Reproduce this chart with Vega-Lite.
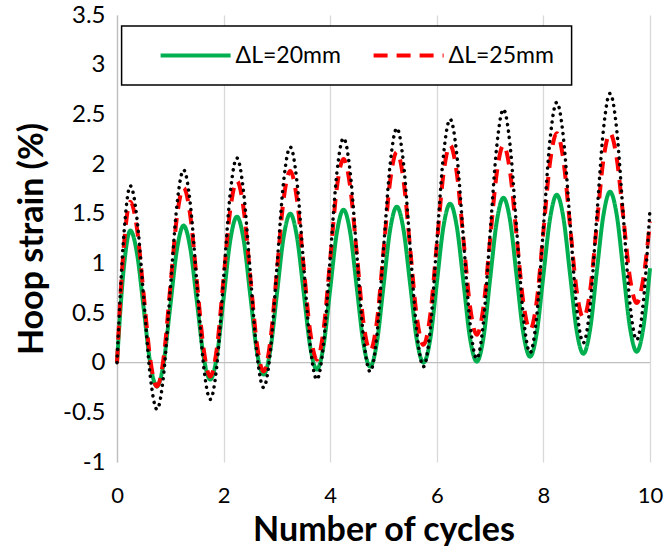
{
  "$schema": "https://vega.github.io/schema/vega-lite/v6.json",
  "width": 533,
  "height": 447,
  "autosize": {"type": "none"},
  "padding": {"left": 117, "top": 15, "right": 15, "bottom": 84},
  "background": "white",
  "config": {
    "view": {"stroke": null},
    "font": "Lato",
    "legend": {"strokeWidth": 1.5}
  },
  "datasets": {
    "cycles": [
      {"x": 0, "L20": 0, "L25": 0, "L30": 0},
      {"x": 0.125, "L20": 0.94, "L25": 1.15, "L30": 1.26},
      {"x": 0.25, "L20": 1.33, "L25": 1.62, "L30": 1.78},
      {"x": 0.375, "L20": 1.10, "L25": 1.35, "L30": 1.45},
      {"x": 0.5, "L20": 0.55, "L25": 0.69, "L30": 0.66},
      {"x": 0.625, "L20": -0.01, "L25": 0.03, "L30": -0.14},
      {"x": 0.75, "L20": -0.24, "L25": -0.24, "L30": -0.47},
      {"x": 0.875, "L20": 0.00, "L25": 0.05, "L30": -0.12},
      {"x": 1, "L20": 0.57, "L25": 0.76, "L30": 0.74},
      {"x": 1.125, "L20": 1.14, "L25": 1.47, "L30": 1.59},
      {"x": 1.25, "L20": 1.38, "L25": 1.76, "L30": 1.94},
      {"x": 1.375, "L20": 1.15, "L25": 1.48, "L30": 1.60},
      {"x": 1.5, "L20": 0.61, "L25": 0.81, "L30": 0.79},
      {"x": 1.625, "L20": 0.06, "L25": 0.14, "L30": -0.03},
      {"x": 1.75, "L20": -0.17, "L25": -0.14, "L30": -0.37},
      {"x": 1.875, "L20": 0.07, "L25": 0.15, "L30": -0.02},
      {"x": 2, "L20": 0.65, "L25": 0.85, "L30": 0.85},
      {"x": 2.125, "L20": 1.23, "L25": 1.54, "L30": 1.71},
      {"x": 2.25, "L20": 1.47, "L25": 1.83, "L30": 2.06},
      {"x": 2.375, "L20": 1.24, "L25": 1.55, "L30": 1.72},
      {"x": 2.5, "L20": 0.68, "L25": 0.87, "L30": 0.91},
      {"x": 2.625, "L20": 0.11, "L25": 0.19, "L30": 0.09},
      {"x": 2.75, "L20": -0.12, "L25": -0.09, "L30": -0.25},
      {"x": 2.875, "L20": 0.12, "L25": 0.21, "L30": 0.10},
      {"x": 3, "L20": 0.69, "L25": 0.92, "L30": 0.96},
      {"x": 3.125, "L20": 1.26, "L25": 1.64, "L30": 1.82},
      {"x": 3.25, "L20": 1.50, "L25": 1.93, "L30": 2.17},
      {"x": 3.375, "L20": 1.27, "L25": 1.65, "L30": 1.83},
      {"x": 3.5, "L20": 0.72, "L25": 0.98, "L30": 1.00},
      {"x": 3.625, "L20": 0.16, "L25": 0.31, "L30": 0.17},
      {"x": 3.75, "L20": -0.07, "L25": 0.03, "L30": -0.17},
      {"x": 3.875, "L20": 0.17, "L25": 0.33, "L30": 0.19},
      {"x": 4, "L20": 0.74, "L25": 1.04, "L30": 1.05},
      {"x": 4.125, "L20": 1.31, "L25": 1.76, "L30": 1.91},
      {"x": 4.25, "L20": 1.54, "L25": 2.05, "L30": 2.26},
      {"x": 4.375, "L20": 1.31, "L25": 1.77, "L30": 1.92},
      {"x": 4.5, "L20": 0.75, "L25": 1.09, "L30": 1.09},
      {"x": 4.625, "L20": 0.19, "L25": 0.40, "L30": 0.25},
      {"x": 4.75, "L20": -0.04, "L25": 0.12, "L30": -0.09},
      {"x": 4.875, "L20": 0.20, "L25": 0.41, "L30": 0.27},
      {"x": 5, "L20": 0.77, "L25": 1.12, "L30": 1.14},
      {"x": 5.125, "L20": 1.34, "L25": 1.83, "L30": 2.00},
      {"x": 5.25, "L20": 1.57, "L25": 2.12, "L30": 2.36},
      {"x": 5.375, "L20": 1.34, "L25": 1.84, "L30": 2.01},
      {"x": 5.5, "L20": 0.79, "L25": 1.15, "L30": 1.16},
      {"x": 5.625, "L20": 0.23, "L25": 0.46, "L30": 0.31},
      {"x": 5.75, "L20": 0.00, "L25": 0.18, "L30": -0.04},
      {"x": 5.875, "L20": 0.23, "L25": 0.47, "L30": 0.32},
      {"x": 6, "L20": 0.80, "L25": 1.19, "L30": 1.21},
      {"x": 6.125, "L20": 1.37, "L25": 1.90, "L30": 2.09},
      {"x": 6.25, "L20": 1.60, "L25": 2.19, "L30": 2.45},
      {"x": 6.375, "L20": 1.37, "L25": 1.91, "L30": 2.10},
      {"x": 6.5, "L20": 0.81, "L25": 1.24, "L30": 1.25},
      {"x": 6.625, "L20": 0.24, "L25": 0.56, "L30": 0.39},
      {"x": 6.75, "L20": 0.01, "L25": 0.28, "L30": 0.04},
      {"x": 6.875, "L20": 0.25, "L25": 0.56, "L30": 0.41},
      {"x": 7, "L20": 0.84, "L25": 1.24, "L30": 1.30},
      {"x": 7.125, "L20": 1.42, "L25": 1.91, "L30": 2.18},
      {"x": 7.25, "L20": 1.66, "L25": 2.19, "L30": 2.55},
      {"x": 7.375, "L20": 1.43, "L25": 1.92, "L30": 2.19},
      {"x": 7.5, "L20": 0.86, "L25": 1.26, "L30": 1.33},
      {"x": 7.625, "L20": 0.29, "L25": 0.60, "L30": 0.46},
      {"x": 7.75, "L20": 0.06, "L25": 0.33, "L30": 0.10},
      {"x": 7.875, "L20": 0.30, "L25": 0.62, "L30": 0.47},
      {"x": 8, "L20": 0.88, "L25": 1.32, "L30": 1.36},
      {"x": 8.125, "L20": 1.45, "L25": 2.02, "L30": 2.25},
      {"x": 8.25, "L20": 1.69, "L25": 2.31, "L30": 2.62},
      {"x": 8.375, "L20": 1.46, "L25": 2.04, "L30": 2.27},
      {"x": 8.5, "L20": 0.89, "L25": 1.38, "L30": 1.41},
      {"x": 8.625, "L20": 0.32, "L25": 0.72, "L30": 0.55},
      {"x": 8.75, "L20": 0.09, "L25": 0.45, "L30": 0.20},
      {"x": 8.875, "L20": 0.33, "L25": 0.72, "L30": 0.57},
      {"x": 9, "L20": 0.91, "L25": 1.38, "L30": 1.46},
      {"x": 9.125, "L20": 1.48, "L25": 2.04, "L30": 2.34},
      {"x": 9.25, "L20": 1.72, "L25": 2.31, "L30": 2.71},
      {"x": 9.375, "L20": 1.49, "L25": 2.06, "L30": 2.35},
      {"x": 9.5, "L20": 0.92, "L25": 1.46, "L30": 1.47},
      {"x": 9.625, "L20": 0.35, "L25": 0.85, "L30": 0.59},
      {"x": 9.75, "L20": 0.11, "L25": 0.60, "L30": 0.23},
      {"x": 9.875, "L20": 0.35, "L25": 0.85, "L30": 0.61},
      {"x": 10, "L20": 0.95, "L25": 1.42, "L30": 1.55}
    ]
  },
  "layer": [
    {
      "data": {"values": [{}]},
      "mark": {"type": "rule", "color": "#bfbfbf", "strokeWidth": 1.3},
      "encoding": {
        "y": {
          "datum": 0,
          "type": "quantitative",
          "scale": {"domain": [-1, 3.5], "nice": false, "zero": false},
          "axis": {
            "values": [-1, -0.5, 0, 0.5, 1, 1.5, 2, 2.5, 3, 3.5],
            "labelExpr": "toString(datum.value)",
            "labelFlush": false,
            "title": "Hoop strain (%)",
            "titleFont": "Lato",
            "titleFontSize": 34,
            "titleFontWeight": "bold",
            "titleColor": "#000",
            "titleX": -75,
            "titleY": 223.5,
            "titleBaseline": "alphabetic",
            "labelFont": "Lato",
            "labelFontSize": 24,
            "labelColor": "#000",
            "labelPadding": 12,
            "ticks": false,
            "domainColor": "#bfbfbf",
            "domainWidth": 1.3,
            "gridColor": "#d9d9d9",
            "gridWidth": 1.3
          }
        }
      }
    },
    {
      "data": {"name": "cycles"},
      "transform": [
        {"fold": ["L20", "L25", "L30"], "as": ["series", "strain"]},
        {"filter": "datum.series != 'L30'"}
      ],
      "mark": {"type": "line", "interpolate": "monotone", "strokeWidth": 4},
      "encoding": {
        "x": {
          "field": "x",
          "type": "quantitative",
          "scale": {"domain": [0, 10], "nice": false},
          "axis": {
            "values": [0, 2, 4, 6, 8, 10],
            "labelFlush": false,
            "title": "Number of cycles",
            "titleFont": "Lato",
            "titleFontSize": 34,
            "titleFontWeight": "bold",
            "titleColor": "#000",
            "titleX": 266.5,
            "titleY": 78,
            "titleBaseline": "alphabetic",
            "labelFont": "Lato",
            "labelFontSize": 22,
            "labelColor": "#000",
            "labelPadding": 23,
            "ticks": false,
            "domain": false,
            "gridColor": "#d9d9d9",
            "gridWidth": 1.3
          }
        },
        "y": {"field": "strain", "type": "quantitative"},
        "color": {
          "field": "series",
          "type": "nominal",
          "scale": {"domain": ["L20", "L25"], "range": ["#00b050", "#ff0000"]},
          "legend": {
            "title": " ",
            "titleOrient": "left",
            "titleFontSize": 1,
            "titlePadding": 20,
            "orient": "none",
            "legendX": 4.6,
            "legendY": 11,
            "direction": "horizontal",
            "columns": 2,
            "symbolType": "stroke",
            "symbolSize": 4900,
            "symbolStrokeWidth": 4,
            "clipHeight": 25,
            "labelFont": "Lato",
            "labelFontSize": 23,
            "labelColor": "#000",
            "labelOffset": 3,
            "columnPadding": 30,
            "padding": 17,
            "strokeColor": "#000",
            "fillColor": "#fff",
            "labelExpr": "datum.label == 'L20' ? 'ΔL=20mm' : 'ΔL=25mm'"
          }
        },
        "strokeDash": {
          "field": "series",
          "type": "nominal",
          "scale": {"domain": ["L20", "L25"], "range": [[1, 0], [14, 9]]},
          "legend": {
            "title": " ",
            "titleOrient": "left",
            "titleFontSize": 1,
            "titlePadding": 20,
            "orient": "none",
            "legendX": 4.6,
            "legendY": 11,
            "direction": "horizontal",
            "columns": 2,
            "symbolType": "stroke",
            "symbolSize": 4900,
            "symbolStrokeWidth": 4,
            "clipHeight": 25,
            "labelFont": "Lato",
            "labelFontSize": 23,
            "labelColor": "#000",
            "labelOffset": 3,
            "columnPadding": 30,
            "padding": 17,
            "strokeColor": "#000",
            "fillColor": "#fff",
            "labelExpr": "datum.label == 'L20' ? 'ΔL=20mm' : 'ΔL=25mm'"
          }
        }
      }
    },
    {
      "data": {"name": "cycles"},
      "transform": [
        {"fold": ["L20", "L25", "L30"], "as": ["series", "strain"]},
        {"filter": "datum.series == 'L30'"}
      ],
      "mark": {
        "type": "line",
        "interpolate": "monotone",
        "color": "#000000",
        "strokeWidth": 3.5,
        "strokeCap": "round",
        "strokeDash": [0.1, 6.5]
      },
      "encoding": {
        "x": {"field": "x", "type": "quantitative"},
        "y": {"field": "strain", "type": "quantitative"}
      }
    }
  ]
}
